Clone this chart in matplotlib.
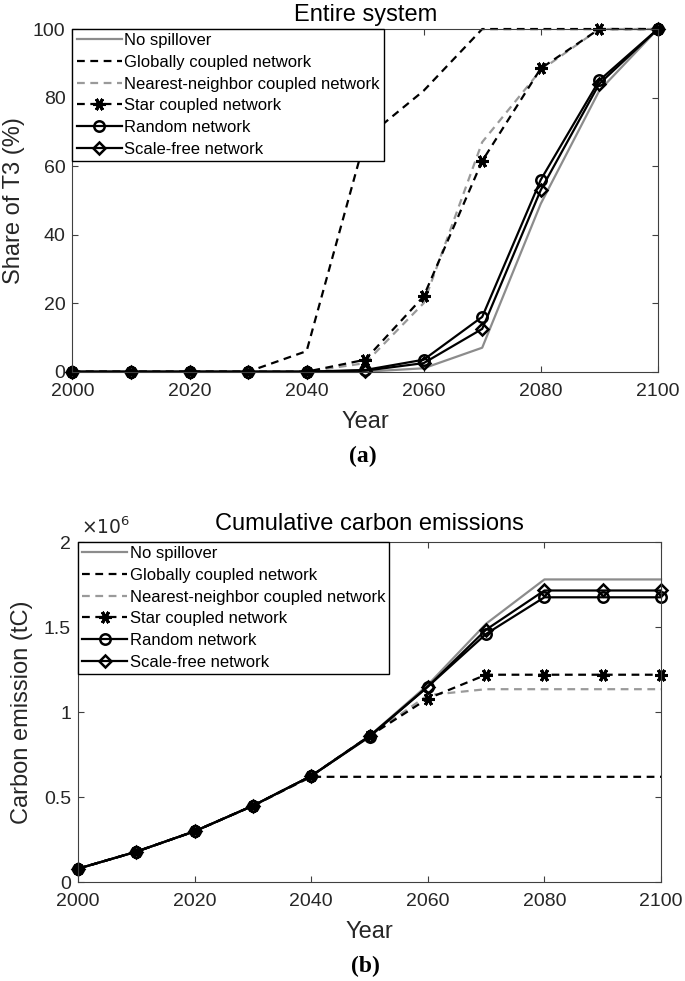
import matplotlib
matplotlib.use("Agg")
import matplotlib.pyplot as plt
from matplotlib.ticker import FuncFormatter

plt.rcParams['font.family'] = ['Liberation Sans', 'DejaVu Sans']

years = [2000, 2010, 2020, 2030, 2040, 2050, 2060, 2070, 2080, 2090, 2100]
labels = ["No spillover", "Globally coupled network", "Nearest-neighbor coupled network",
          "Star coupled network", "Random network", "Scale-free network"]

# Panel (a): share of T3 (%)
share_none = [0, 0, 0, 0, 0, 0, 1, 7, 49, 82, 100]
share_global = [0, 0, 0, 0, 6, 68, 82, 100, 100, 100, 100]
share_nearest = [0, 0, 0, 0, 0, 2.5, 20, 67, 88, 100, 100]
share_star = [0, 0, 0, 0, 0, 3.5, 22, 61.5, 88.5, 100, 100]
share_random = [0, 0, 0, 0, 0, 0.5, 3.5, 16, 56, 85, 100]
share_scalefree = [0, 0, 0, 0, 0, 0.3, 2.5, 12.5, 53, 84, 100]

# Panel (b): cumulative carbon emissions (million tC)
emis_none = [0.08, 0.18, 0.30, 0.45, 0.625, 0.86, 1.16, 1.52, 1.78, 1.78, 1.78]
emis_global = [0.08, 0.18, 0.30, 0.45, 0.62, 0.62, 0.62, 0.62, 0.62, 0.62, 0.62]
emis_nearest = [0.08, 0.18, 0.30, 0.45, 0.625, 0.86, 1.10, 1.135, 1.135, 1.135, 1.135]
emis_star = [0.08, 0.18, 0.30, 0.45, 0.625, 0.86, 1.08, 1.22, 1.22, 1.22, 1.22]
emis_random = [0.08, 0.18, 0.30, 0.45, 0.625, 0.855, 1.15, 1.46, 1.675, 1.675, 1.675]
emis_scalefree = [0.08, 0.18, 0.30, 0.45, 0.625, 0.86, 1.15, 1.485, 1.715, 1.715, 1.715]
EMIS_SCALE = 1e6

DASH = (0, (3.5, 2.5))
styles = [
    dict(color='#8c8c8c', lw=1.6, ls='-'),
    dict(color='black', lw=1.6, ls=DASH),
    dict(color='#9a9a9a', lw=1.6, ls=DASH),
    dict(color='black', lw=1.6, ls=DASH, marker=(6, 2, 90), ms=9, mew=2.2, mec='black'),
    dict(color='black', lw=1.6, ls='-', marker='o', ms=7.5, mfc='none', mew=1.8, mec='black'),
    dict(color='black', lw=1.6, ls='-', marker='D', ms=6.5, mfc='none', mew=1.8, mec='black'),
]

AX_COL = '#262626'
SPINE_COL = '#404040'
fig = plt.figure(figsize=(6.85, 9.81), dpi=100)
ax1 = fig.add_axes([0.1058, 0.6211, 0.8545, 0.3493])
ax2 = fig.add_axes([0.1139, 0.1006, 0.8511, 0.3469])


def style_axes(ax):
    for s in ax.spines.values():
        s.set_color(SPINE_COL)
        s.set_linewidth(0.8)
    ax.tick_params(direction='in', top=True, right=True, length=4, width=0.8,
                   color=SPINE_COL, labelcolor=AX_COL, labelsize=14)
    ax.tick_params(axis='x', pad=8)
    ax.tick_params(axis='y', pad=5)
    ax.set_xlim(2000, 2100)
    ax.set_xticks([2000, 2020, 2040, 2060, 2080, 2100])


def add_legend(ax, handles):
    leg = ax.legend(handles, labels, loc='upper left', bbox_to_anchor=(0, 1),
                    borderaxespad=0, fontsize=12, handlelength=2.7,
                    handletextpad=0.15, labelspacing=0.40, borderpad=0.25,
                    fancybox=False, framealpha=1, edgecolor='black')
    leg.get_frame().set_linewidth(1.0)
    return leg


series_a = [share_none, share_global, share_nearest, share_star, share_random, share_scalefree]
h1 = []
for vals, st in zip(series_a, styles):
    line, = ax1.plot(years, vals, clip_on=False, **st)
    h1.append(line)
style_axes(ax1)
ax1.set_ylim(0, 100)
ax1.set_yticks([0, 20, 40, 60, 80, 100])
ax1.set_title('Entire system', fontsize=17, color='black', pad=6)
ax1.set_ylabel('Share of T3 (%)', fontsize=17, color=AX_COL)
ax1.set_xlabel('Year', fontsize=17, color=AX_COL)
ax1.yaxis.set_label_coords(-0.081, 0.5)
ax1.xaxis.set_label_coords(0.5, -0.115)
add_legend(ax1, h1)

series_b = [emis_none, emis_global, emis_nearest, emis_star, emis_random, emis_scalefree]
h2 = []
for vals, st in zip(series_b, styles):
    line, = ax2.plot(years, [v * EMIS_SCALE for v in vals], clip_on=False, **st)
    h2.append(line)
style_axes(ax2)
ax2.set_ylim(0, 2e6)
ax2.set_yticks([0, 0.5e6, 1e6, 1.5e6, 2e6])
ax2.yaxis.set_major_formatter(FuncFormatter(lambda v, p: f'{v / EMIS_SCALE:g}'))
ax2.text(0.005, 1.012, r'$\times10^{6}$', transform=ax2.transAxes, fontsize=13.5,
         color=AX_COL, ha='left', va='bottom')
ax2.set_title('Cumulative carbon emissions', fontsize=17, color='black', pad=9)
ax2.set_ylabel('Carbon emission (tC)', fontsize=17, color=AX_COL)
ax2.set_xlabel('Year', fontsize=17, color=AX_COL)
ax2.yaxis.set_label_coords(-0.077, 0.5)
ax2.xaxis.set_label_coords(0.5, -0.114)
add_legend(ax2, h2)

fig.text(0.529, 0.535, '(a)', fontsize=17, fontweight='bold', family='Liberation Serif',
         ha='center', va='center')
fig.text(0.533, 0.0153, '(b)', fontsize=17, fontweight='bold', family='Liberation Serif',
         ha='center', va='center')

fig.savefig('out.png', dpi=100)
